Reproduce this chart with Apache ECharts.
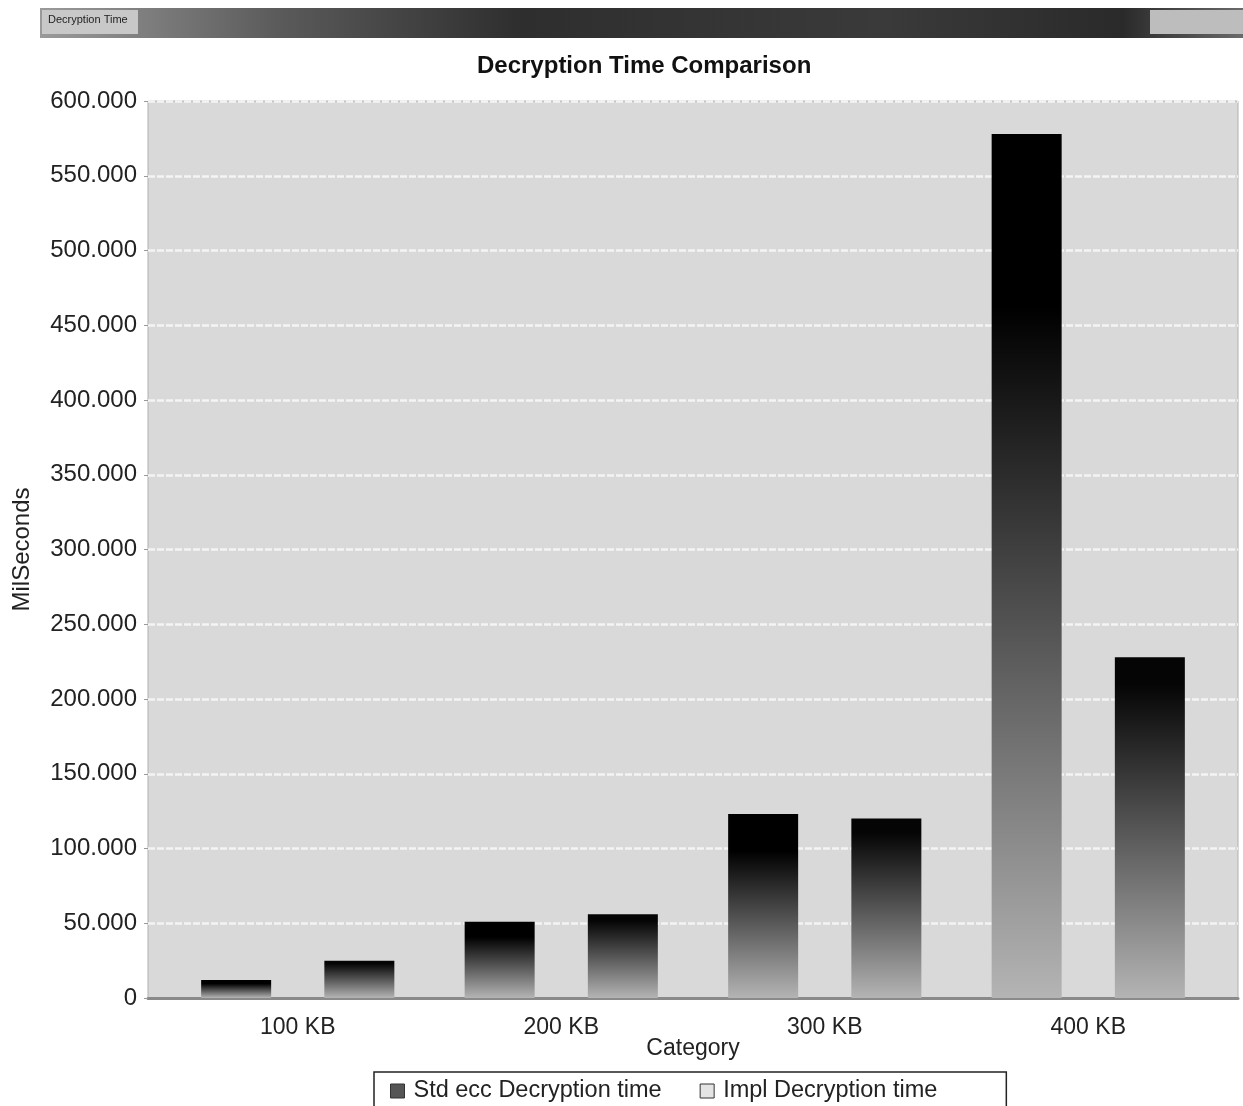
<!DOCTYPE html>
<html>
<head>
<meta charset="utf-8">
<style>
  html, body { margin: 0; padding: 0; background: #ffffff; }
  #chart { width: 1243px; height: 1106px; }
</style>
<script src="https://cdn.jsdelivr.net/npm/echarts@6/dist/echarts.min.js"></script>
</head>
<body>
<div id="chart"></div>
<script>
// File sizes tested and decryption times in milliseconds
const categories = ['100 KB', '200 KB', '300 KB', '400 KB'];
const stdEccTimes = [12, 51, 123, 578];
const implTimes = [25, 56, 120, 228];
const seriesNames = ['Std ecc Decryption time', 'Impl Decryption time'];

const FONT = '"Liberation Sans", Arial, Helvetica, sans-serif';

function barGradient(topColor, holdUntil) {
  return new echarts.graphic.LinearGradient(0, 0, 0, 1, [
    { offset: 0, color: topColor },
    { offset: holdUntil, color: topColor },
    { offset: 1, color: '#b4b4b4' }
  ]);
}

const chart = echarts.init(document.getElementById('chart'), null, { renderer: 'canvas' });

const option = {
  backgroundColor: '#ffffff',
  animation: false,
  title: {
    text: 'Decryption Time Comparison',
    left: 472,
    top: 49,
    textStyle: { fontFamily: FONT, fontSize: 24, fontWeight: 'bold', color: '#111' }
  },
  graphic: [
    {
      // application window title bar
      type: 'rect',
      shape: { x: 40, y: 8, width: 1203, height: 30 },
      style: {
        fill: new echarts.graphic.LinearGradient(0, 0, 1, 0, [
          { offset: 0, color: '#9a9a9a' },
          { offset: 0.2, color: '#5a5a5a' },
          { offset: 0.4, color: '#2e2e2e' },
          { offset: 0.7, color: '#3a3a3a' },
          { offset: 0.9, color: '#2a2a2a' },
          { offset: 1, color: '#6a6a6a' }
        ])
      },
      silent: true
    },
    {
      type: 'rect',
      shape: { x: 42, y: 10, width: 96, height: 24 },
      style: { fill: '#c8c8c8' },
      silent: true
    },
    {
      type: 'text',
      left: 48, top: 14,
      style: { text: 'Decryption Time', font: '11px ' + FONT, fill: '#222' },
      silent: true
    },
    {
      type: 'rect',
      shape: { x: 1150, y: 10, width: 93, height: 24 },
      style: { fill: '#bdbdbd' },
      silent: true
    }
  ],
  legend: {
    left: 374,
    top: 1072,
    padding: [7, 69, 30, 16],
    borderColor: '#222',
    borderWidth: 1.5,
    itemWidth: 14,
    itemHeight: 14,
    itemGap: 38,
    icon: 'rect',
    textStyle: { fontFamily: FONT, fontSize: 23.5, color: '#222', padding: [0, 0, 0, 4] },
    data: [
      { name: seriesNames[0], itemStyle: { color: '#555555', borderColor: '#333', borderWidth: 1 } },
      { name: seriesNames[1], itemStyle: { color: '#e4e4e4', borderColor: '#333', borderWidth: 1 } }
    ]
  },
  grid: [
    {
      left: 148, right: 5, top: 101, bottom: 108,
      show: true, backgroundColor: '#d9d9d9', borderColor: '#b0b0b0', borderWidth: 1
    },
    { left: 166, right: 23, top: 101, bottom: 108 }
  ],
  xAxis: [
    {
      gridIndex: 0,
      type: 'category',
      data: [''],
      axisLine: { show: true, lineStyle: { color: '#8a8a8a', width: 3 } },
      axisTick: { show: false },
      axisLabel: { show: false },
      splitLine: { show: false }
    },
    {
      gridIndex: 1,
      type: 'category',
      data: categories,
      name: 'Category',
      nameLocation: 'middle',
      nameGap: 39,
      nameMoveOverlap: false,
      nameTextStyle: { fontFamily: FONT, fontSize: 23, color: '#222' },
      axisLine: { show: false },
      axisTick: { show: false },
      axisLabel: { fontFamily: FONT, fontSize: 23, color: '#222', margin: 18 }
    }
  ],
  yAxis: [
    {
      gridIndex: 0,
      type: 'value',
      min: 0,
      max: 600,
      interval: 50,
      name: 'MilSeconds',
      nameLocation: 'middle',
      nameGap: 114,
      nameTextStyle: { fontFamily: FONT, fontSize: 24, color: '#222' },
      axisLine: { show: false },
      axisTick: { show: true, length: 4, lineStyle: { color: '#999' } },
      axisLabel: {
        fontFamily: FONT, fontSize: 24, color: '#222', margin: 11,
        formatter: v => (v === 0 ? '0' : v.toFixed(3))
      },
      splitLine: { show: true, lineStyle: { color: '#f4f4f4', width: 2.5, type: [7, 2] } }
    },
    {
      gridIndex: 1,
      type: 'value',
      min: 0,
      max: 600,
      show: false,
      splitLine: { show: false }
    }
  ],
  series: [
    {
      name: seriesNames[0],
      type: 'bar',
      xAxisIndex: 1,
      yAxisIndex: 1,
      data: stdEccTimes,
      barWidth: 70,
      barGap: '76%',
      itemStyle: { color: barGradient('#000000', 0.2) }
    },
    {
      name: seriesNames[1],
      type: 'bar',
      xAxisIndex: 1,
      yAxisIndex: 1,
      data: implTimes,
      barWidth: 70,
      barGap: '76%',
      itemStyle: { color: barGradient('#050505', 0.08) }
    }
  ]
};

chart.setOption(option);
</script>
</body>
</html>
